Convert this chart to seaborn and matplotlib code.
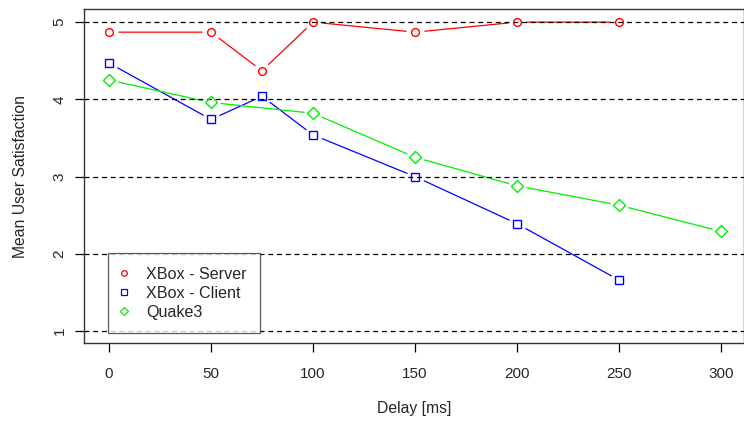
import pandas as pd
import matplotlib.pyplot as plt
from matplotlib.lines import Line2D
import seaborn as sns

# === Data ===
delay_server = [0, 50, 75, 100, 150, 200, 250]
mos_server = [4.87, 4.87, 4.37, 5.0, 4.87, 5.0, 5.0]

delay_client = [0, 50, 75, 100, 150, 200, 250]
mos_client = [4.47, 3.74, 4.04, 3.54, 3.0, 2.39, 1.66]

delay_quake = [0, 50, 100, 150, 200, 250, 300]
mos_quake = [4.25, 3.96, 3.82, 3.25, 2.88, 2.63, 2.29]

series = [
    ("XBox - Server", delay_server, mos_server, "red", "o", 5.6),
    ("XBox - Client", delay_client, mos_client, "blue", "s", 5.2),
    ("Quake3", delay_quake, mos_quake, "#00ee00", "D", 6.3),
]

# === Figure ===
sns.set_style("white")
plt.rcParams["font.family"] = ["Liberation Sans", "DejaVu Sans"]

fig = plt.figure(figsize=(7.44, 4.25), dpi=100)
ax = fig.add_axes([84 / 744, 82 / 425, 660 / 744, 334 / 425])

# lignes de référence pointillées
for yv in [1, 2, 3, 4, 5]:
    ax.axhline(yv, color="black", linestyle=(0, (4, 3)), linewidth=0.9, zorder=2.6)

handles = []
for label, x, y, col, mk, ms in series:
    df = pd.DataFrame({"delay": x, "mos": y})
    sns.lineplot(data=df, x="delay", y="mos", ax=ax, color=col, linewidth=0.9, zorder=2)
    # halo blanc autour des points (style R type="b")
    ax.plot(df["delay"], df["mos"], linestyle="None", marker="o", markersize=13,
            markerfacecolor="white", markeredgecolor="none", zorder=2.5)
    ax.plot(df["delay"], df["mos"], linestyle="None", marker=mk, markersize=ms,
            markerfacecolor="none", markeredgecolor=col, markeredgewidth=1.0, zorder=3)
    handles.append(Line2D([], [], linestyle="None", marker=mk, markersize=ms * 0.72,
                          markerfacecolor="none", markeredgecolor=col, markeredgewidth=0.9,
                          label=label))

ax.set_xlim(-12.25, 311.3)
ax.set_ylim(0.845, 5.17)
ax.set_xticks([0, 50, 100, 150, 200, 250, 300])
ax.set_yticks([1, 2, 3, 4, 5])
ax.tick_params(axis="both", direction="out", length=6.5, width=0.9, color="black",
               labelsize=11, bottom=True, left=True)
ax.tick_params(axis="x", pad=11)
ax.tick_params(axis="y", pad=6)
for t in ax.get_yticklabels():
    t.set_rotation(90)
    t.set_va("center")

for s in ax.spines.values():
    s.set_color("#333333")
    s.set_linewidth(1.0)

ax.set_xlabel("Delay [ms]", fontsize=11.3, labelpad=14)
ax.set_ylabel("Mean User Satisfaction", fontsize=11.3, labelpad=17.5)

leg = ax.legend(handles=handles, loc="upper left", bbox_to_anchor=(0.037, 0.268),
                frameon=True, fancybox=False, shadow=False, fontsize=11.6,
                handlelength=0.3, handletextpad=1.2, borderpad=0.82, labelspacing=0.25,
                borderaxespad=0)
leg.get_frame().set_edgecolor("#333333")
leg.get_frame().set_linewidth(0.9)
leg.set_zorder(5)

plt.savefig("out.png", dpi=100)
plt.close()
